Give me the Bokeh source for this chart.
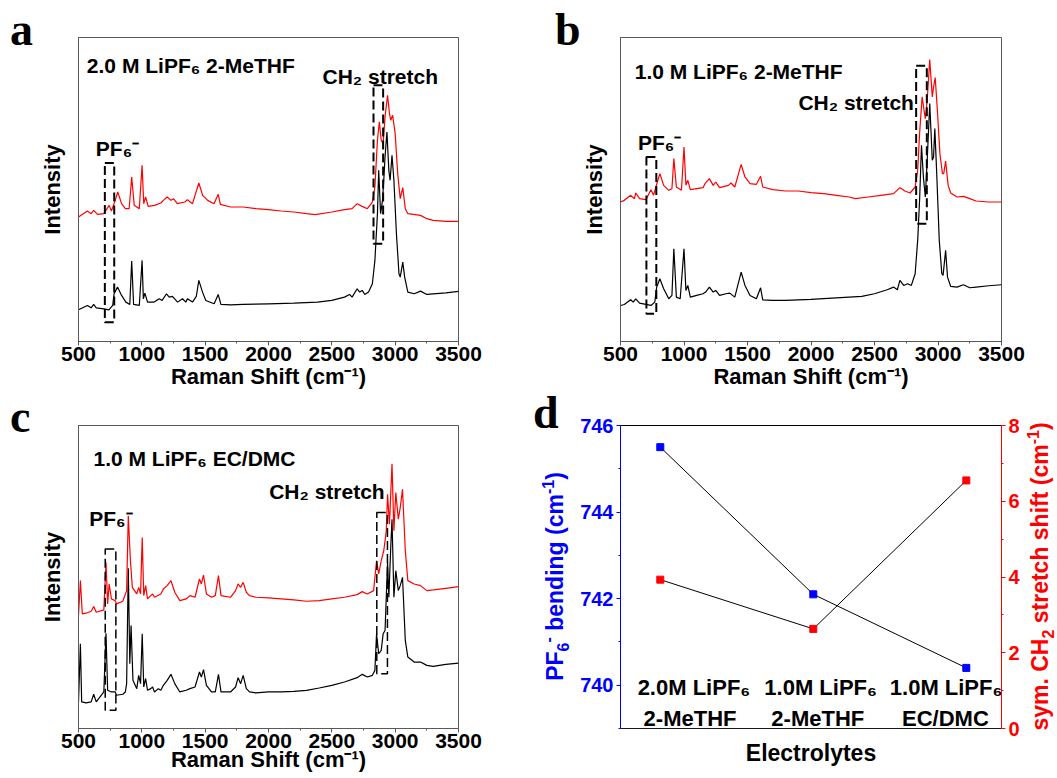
import math
from bokeh.plotting import figure
from bokeh.models import (Range1d, LinearAxis, SingleIntervalTicker, FixedTicker,
                          Label, ColumnDataSource, GridBox, Div)
from bokeh.core.properties import value
from bokeh.embed import file_html
from bokeh.resources import INLINE

SANS = "Liberation Sans"
SERIF = "Liberation Serif"
GRAY = "#595959"
RED = "#ff0000"
BLUE = "#0000ff"

# ---------------- panel a: 2.0 M LiPF6 2-MeTHF (intensity, a.u.) ----------------
a_black_shift = [500, 570, 600, 620, 640, 700, 740, 770, 781, 808,
                 840, 874, 905, 920, 935, 980, 1002, 1012, 1024, 1045,
                 1097, 1137, 1160, 1195, 1216, 1242, 1282, 1321, 1347, 1360,
                 1400, 1430, 1450, 1479, 1505, 1571, 1603, 1624, 1700, 1800,
                 2000, 2200, 2387, 2500, 2600, 2640, 2660, 2700, 2720, 2740,
                 2760, 2790, 2820, 2840, 2860, 2870, 2885, 2900, 2910, 2920,
                 2935, 2950, 2960, 2975, 2990, 3010, 3030, 3040, 3060, 3075,
                 3100, 3150, 3200, 3250, 3300, 3400, 3500]
a_black_int = [95, 108, 101, 111, 101, 98, 95, 108, 143, 163,
               138, 118, 111, 241, 111, 108, 243, 128, 145, 118,
               118, 128, 123, 143, 133, 135, 118, 128, 118, 128,
               118, 135, 183, 148, 123, 113, 141, 111, 110, 111,
               113, 115, 118, 123, 133, 141, 133, 158, 148, 153,
               141, 148, 173, 243, 383, 513, 383, 423, 483, 553,
               628, 513, 483, 558, 483, 323, 203, 193, 238, 193,
               148, 143, 151, 141, 143, 146, 150]
a_red_shift = [500, 570, 600, 620, 650, 700, 742, 760, 790, 810,
               840, 870, 900, 920, 940, 980, 1002, 1015, 1030, 1050,
               1100, 1150, 1170, 1200, 1230, 1250, 1280, 1340, 1360, 1400,
               1450, 1480, 1520, 1570, 1603, 1620, 1700, 1800, 1900, 2000,
               2100, 2200, 2300, 2370, 2500, 2600, 2660, 2700, 2740, 2780,
               2820, 2840, 2860, 2875, 2890, 2905, 2920, 2940, 2955, 2965,
               2980, 3000, 3020, 3040, 3060, 3080, 3100, 3200, 3250, 3300,
               3400, 3500]
a_red_int = [373, 391, 383, 393, 381, 383, 408, 391, 423, 448,
             413, 398, 398, 493, 408, 398, 528, 413, 433, 405,
             408, 415, 423, 433, 423, 428, 413, 418, 425, 413,
             475, 438, 423, 413, 441, 411, 403, 403, 398, 395,
             391, 388, 383, 380, 388, 395, 398, 413, 405, 398,
             418, 463, 603, 658, 603, 593, 673, 738, 683, 663,
             678, 623, 503, 428, 461, 398, 383, 378, 368, 363,
             360, 360]

# ---------------- panel b: 1.0 M LiPF6 2-MeTHF ----------------
b_black_shift = [500, 530, 580, 600, 620, 650, 700, 740, 770, 785,
                 810, 840, 880, 905, 920, 940, 970, 1000, 1015, 1030,
                 1050, 1100, 1150, 1170, 1200, 1230, 1250, 1280, 1330, 1360,
                 1400, 1450, 1480, 1520, 1570, 1603, 1620, 1700, 1800, 2000,
                 2200, 2400, 2500, 2600, 2650, 2680, 2700, 2730, 2760, 2790,
                 2820, 2840, 2855, 2870, 2885, 2900, 2915, 2935, 2955, 2965,
                 2975, 2990, 3010, 3030, 3040, 3060, 3075, 3100, 3150, 3200,
                 3250, 3300, 3400, 3500]
b_black_int = [108, 111, 125, 118, 128, 115, 111, 108, 118, 163,
               188, 158, 128, 138, 278, 133, 128, 278, 153, 168,
               133, 138, 143, 148, 163, 148, 153, 138, 143, 145,
               133, 208, 168, 138, 128, 161, 125, 123, 123, 126,
               131, 135, 143, 155, 163, 155, 183, 168, 173, 168,
               203, 303, 423, 588, 493, 433, 543, 713, 543, 553,
               638, 503, 303, 203, 198, 273, 193, 165, 163, 170,
               161, 163, 167, 170]
b_red_shift = [500, 530, 580, 610, 620, 650, 700, 740, 760, 790,
               810, 840, 880, 905, 920, 940, 980, 1000, 1015, 1030,
               1050, 1100, 1150, 1165, 1200, 1230, 1250, 1280, 1350, 1370,
               1400, 1450, 1480, 1520, 1570, 1603, 1620, 1700, 1800, 1900,
               2000, 2100, 2200, 2300, 2350, 2450, 2550, 2650, 2700, 2740,
               2780, 2820, 2840, 2855, 2875, 2890, 2900, 2915, 2935, 2955,
               2965, 2978, 2995, 3015, 3035, 3045, 3060, 3080, 3100, 3150,
               3200, 3250, 3300, 3400, 3500]
b_red_int = [418, 423, 438, 428, 445, 428, 425, 455, 438, 478,
             503, 468, 453, 458, 548, 463, 453, 583, 468, 483,
             455, 458, 461, 473, 488, 468, 478, 461, 468, 475,
             463, 531, 493, 473, 471, 495, 463, 455, 451, 451,
             446, 443, 438, 433, 428, 433, 438, 443, 461, 451,
             445, 463, 513, 623, 733, 693, 668, 723, 845, 733,
             763, 791, 693, 563, 503, 503, 541, 468, 445, 433,
             435, 428, 421, 418, 418]

# ---------------- panel c: 1.0 M LiPF6 EC/DMC ----------------
c_black_shift = [500, 515, 525, 560, 600, 620, 640, 700, 717, 730,
                 760, 790, 800, 850, 870, 880, 893, 905, 915, 930,
                 960, 975, 990, 1003, 1015, 1030, 1045, 1070, 1085, 1100,
                 1130, 1150, 1170, 1200, 1230, 1260, 1300, 1350, 1380, 1420,
                 1455, 1470, 1487, 1510, 1550, 1580, 1605, 1625, 1700, 1740,
                 1760, 1780, 1800, 1825, 1850, 1900, 2000, 2100, 2200, 2300,
                 2400, 2500, 2600, 2700, 2740, 2780, 2820, 2840, 2853, 2870,
                 2890, 2905, 2920, 2940, 2950, 2965, 2975, 2990, 3005, 3025,
                 3040, 3058, 3080, 3100, 3150, 3200, 3250, 3300, 3400, 3500]
c_black_int = [80, 255, 80, 77, 80, 103, 80, 110, 287, 115,
               110, 110, 100, 103, 110, 135, 482, 195, 310, 145,
               120, 160, 135, 285, 125, 150, 115, 120, 125, 110,
               120, 115, 130, 145, 163, 135, 110, 115, 120, 125,
               170, 155, 177, 130, 110, 110, 163, 110, 110, 125,
               153, 135, 160, 120, 110, 107, 110, 110, 112, 115,
               122, 130, 140, 153, 163, 155, 160, 175, 285, 225,
               235, 285, 295, 500, 395, 545, 630, 395, 475, 415,
               430, 455, 265, 215, 200, 200, 190, 187, 193, 197]
c_red_shift = [500, 515, 530, 560, 600, 620, 640, 700, 717, 730,
               742, 760, 790, 800, 850, 880, 893, 910, 925, 960,
               975, 990, 1003, 1015, 1030, 1045, 1070, 1085, 1100, 1150,
               1170, 1200, 1230, 1260, 1300, 1350, 1380, 1420, 1455, 1470,
               1487, 1510, 1550, 1580, 1605, 1625, 1700, 1740, 1760, 1780,
               1800, 1825, 1850, 1900, 2000, 2100, 2200, 2300, 2400, 2500,
               2600, 2700, 2740, 2780, 2830, 2853, 2870, 2890, 2910, 2930,
               2940, 2955, 2975, 2990, 3005, 3025, 3040, 3058, 3080, 3100,
               3150, 3200, 3250, 3300, 3400, 3500]
c_red_int = [340, 445, 345, 347, 353, 367, 350, 357, 500, 375,
             435, 390, 385, 375, 383, 415, 640, 505, 425, 405,
             425, 405, 575, 400, 430, 390, 400, 405, 395, 405,
             420, 430, 445, 410, 385, 390, 400, 395, 450, 435,
             462, 405, 395, 400, 460, 400, 395, 415, 435, 425,
             440, 410, 400, 395, 393, 390, 387, 383, 385, 390,
             395, 403, 412, 405, 415, 505, 465, 505, 535, 595,
             705, 615, 797, 595, 710, 630, 665, 720, 535, 445,
             435, 430, 415, 417, 422, 427]

# dashed guide boxes [left, right, bottom, top] in data units
a_boxes = {"left": [708, 2829], "right": [782, 2905], "bottom": [58, 293], "top": [535, 768]}
b_boxes = {"left": [704, 2828], "right": [782, 2912], "bottom": [83, 353], "top": [553, 826]}
c_boxes = {"left": [711, 2855], "right": [795, 2939], "bottom": [55, 165], "top": [540, 650]}

# ---------------- panel d ----------------
electrolyte_pos = [1, 2, 3]
electrolyte_line1 = ["2.0M LiPF\u2086", "1.0M LiPF\u2086", "1.0M LiPF\u2086"]
electrolyte_line2 = ["2-MeTHF", "2-MeTHF", "EC/DMC"]
pf6_bending = [745.5, 742.1, 740.4]          # cm-1, left axis
ch2_shift = [3.93, 2.63, 6.55]               # cm-1, right axis
line1_left = [0.852, 1.68, 2.50]             # left edges of the in-plot category labels
line2_left = [0.891, 1.726, 2.58]


def spectrum_panel(width, height, bl, br, bt, bb, ymax, label_standoff=0):
    p = figure(width=width, height=height,
               x_range=Range1d(500, 3500), y_range=Range1d(0, ymax),
               output_backend="svg", toolbar_location=None,
               min_border_left=bl, min_border_right=br,
               min_border_top=bt, min_border_bottom=bb)
    p.xgrid.visible = False
    p.ygrid.visible = False
    p.outline_line_color = GRAY
    p.outline_line_width = 1
    p.border_fill_color = None
    p.background_fill_color = "white"
    xa = p.xaxis[0]
    xa.ticker = SingleIntervalTicker(interval=500, num_minor_ticks=2)
    xa.axis_line_color = GRAY
    xa.major_tick_line_color = GRAY
    xa.minor_tick_line_color = GRAY
    xa.major_tick_out = 4
    xa.major_tick_in = 0
    xa.minor_tick_out = 2
    xa.minor_tick_in = 0
    xa.major_label_text_font = SANS
    xa.major_label_text_font_style = "bold"
    xa.major_label_text_font_size = "21px"
    xa.major_label_text_color = "black"
    xa.major_label_standoff = 1
    xa.axis_label = "Raman Shift (cm\u207b\u00b9)"
    xa.axis_label_text_font = SANS
    xa.axis_label_text_font_style = "bold"
    xa.axis_label_text_font_size = "22px"
    xa.axis_label_text_color = "black"
    xa.axis_label_standoff = label_standoff
    ya = p.yaxis[0]
    ya.ticker = FixedTicker(ticks=[])
    ya.major_tick_line_color = None
    ya.minor_tick_line_color = None
    ya.major_tick_out = 0
    ya.major_label_standoff = 0
    ya.axis_line_color = GRAY
    ya.axis_label = "Intensity"
    ya.axis_label_text_font = SANS
    ya.axis_label_text_font_style = "bold"
    ya.axis_label_text_font_size = "22px"
    ya.axis_label_text_color = "black"
    ya.axis_label_standoff = 14
    return p


def add_text(p, x, y, text, size="21px", font=SANS, color="black"):
    p.add_layout(Label(x=x, y=y, text=text, text_font=font, text_font_style="bold",
                       text_font_size=size, text_color=color,
                       text_baseline="alphabetic", text_align="left"))


def fill_spectrum(p, blk_x, blk_y, red_x, red_y, boxes, dash_w):
    p.line(blk_x, blk_y, line_color="black", line_width=1.2)
    p.line(red_x, red_y, line_color=RED, line_width=1.2)
    p.quad(left=boxes["left"], right=boxes["right"], bottom=boxes["bottom"], top=boxes["top"],
           fill_color=None, line_color="black", line_width=dash_w, line_dash="9 4")


def overlay_div(html, w, h):
    d = Div(text=html, width=w, height=h, align="start", margin=0)
    try:
        d.styles = {"z-index": "10", "pointer-events": "none", "overflow": "visible"}
    except Exception:
        pass
    return d


def letter_div(letter, dx, baseline):
    ty = baseline - 38.5
    html = ('<div style="font-family:\'Liberation Serif\';font-weight:bold;font-size:46px;'
            'line-height:46px;color:#000;white-space:nowrap;margin:0;padding:0;'
            f'transform:translate({dx}px,{ty}px);">{letter}</div>')
    return overlay_div(html, 60, 60)


def vertical_title_div(inner_html, color, box_left, box_bottom, w, h):
    html = ('<div style="width:317px;height:27px;line-height:27px;text-align:center;white-space:nowrap;'
            f'font-family:\'Liberation Sans\';font-weight:bold;font-size:23px;color:{color};'
            'margin:0;padding:0;transform-origin:0 0;'
            f'transform:translate({box_left}px,{box_bottom}px) rotate(-90deg);">{inner_html}</div>')
    return overlay_div(html, w, h)


SUB = '<sub style="font-size:16px;line-height:0;">{}</sub>'
SUP = '<sup style="font-size:16px;line-height:0;">{}</sup>'

# panel a
pa = spectrum_panel(530, 398, 78, 72, 37, 57, 911)
fill_spectrum(pa, a_black_shift, a_black_int, a_red_shift, a_red_int, a_boxes, 2)
add_text(pa, 566, 826, "2.0 M LiPF\u2086 2-MeTHF")
add_text(pa, 2426, 795, "CH\u2082 stretch")
add_text(pa, 637, 578, "PF\u2086\u207b")

# panel b
pb = spectrum_panel(527, 398, 90, 56, 37, 57, 911)
fill_spectrum(pb, b_black_shift, b_black_int, b_red_shift, b_red_int, b_boxes, 2)
add_text(pb, 612, 808, "1.0 M LiPF\u2086 2-MeTHF")
add_text(pb, 1901, 715, "CH\u2082 stretch")
add_text(pb, 638, 595, "PF\u2086\u207b")

# panel c
pc = spectrum_panel(530, 380, 78, 72, 27, 50, 912, label_standoff=-4)
fill_spectrum(pc, c_black_shift, c_black_int, c_red_shift, c_red_int, c_boxes, 1.5)
add_text(pc, 618, 812, "1.0 M LiPF\u2086 EC/DMC")
add_text(pc, 2005, 712, "CH\u2082 stretch")
add_text(pc, 584, 632, "PF\u2086\u207b")

# panel d
pd = figure(width=527, height=380, x_range=Range1d(0.74, 3.23), y_range=Range1d(739, 746),
            output_backend="svg", toolbar_location=None,
            min_border_left=90, min_border_right=56, min_border_top=27, min_border_bottom=50)
pd.xgrid.visible = False
pd.ygrid.visible = False
pd.outline_line_color = None
pd.border_fill_color = None
pd.background_fill_color = "white"
pd.extra_y_ranges = {"shift": Range1d(0, 8)}

la = pd.yaxis[0]
la.ticker = SingleIntervalTicker(interval=2, num_minor_ticks=2)
la.axis_line_color = BLUE
la.major_tick_line_color = BLUE
la.minor_tick_line_color = BLUE
la.major_tick_out = 4
la.major_tick_in = 0
la.minor_tick_out = 2
la.minor_tick_in = 0
la.major_label_text_font = SANS
la.major_label_text_font_style = "bold"
la.major_label_text_font_size = "20px"
la.major_label_text_color = BLUE
la.major_label_standoff = 3

ra = LinearAxis(y_range_name="shift", ticker=SingleIntervalTicker(interval=2, num_minor_ticks=2))
ra.axis_line_color = RED
ra.major_tick_line_color = RED
ra.minor_tick_line_color = RED
ra.major_tick_out = 4
ra.major_tick_in = 0
ra.minor_tick_out = 2
ra.minor_tick_in = 0
ra.major_label_text_font = SANS
ra.major_label_text_font_style = "bold"
ra.major_label_text_font_size = "20px"
ra.major_label_text_color = RED
ra.major_label_standoff = 3
pd.add_layout(ra, "right")

ba = pd.xaxis[0]
ba.ticker = FixedTicker(ticks=[])
ba.axis_line_color = "#1a1a1a"
ba.major_tick_line_color = None
ba.minor_tick_line_color = None
ba.major_tick_out = 0
ba.major_label_standoff = 0
ba.axis_label = "Electrolytes"
ba.axis_label_text_font = SANS
ba.axis_label_text_font_style = "bold"
ba.axis_label_text_font_size = "23px"
ba.axis_label_text_color = "black"
ba.axis_label_standoff = 11

ta = LinearAxis(ticker=FixedTicker(ticks=[]))
ta.axis_line_color = "black"
ta.major_tick_line_color = None
ta.minor_tick_line_color = None
ta.major_tick_out = 0
ta.major_label_standoff = 0
pd.add_layout(ta, "above")

pd.line(electrolyte_pos, pf6_bending, line_color="black", line_width=1)
pd.line(electrolyte_pos, ch2_shift, line_color="black", line_width=1, y_range_name="shift")
pd.scatter(electrolyte_pos, pf6_bending, marker="square", size=7, color=BLUE)
pd.scatter(electrolyte_pos, ch2_shift, marker="square", size=7, color=RED, y_range_name="shift")

cat_src = ColumnDataSource(dict(x1=line1_left, x2=line2_left, y1=[739.94] * 3, y2=[739.22] * 3,
                                t1=electrolyte_line1, t2=electrolyte_line2))
pd.text(x="x1", y="y1", text="t1", source=cat_src, text_font=value(SANS), text_font_style="bold",
        text_font_size="22px", text_color="black", text_align="left", text_baseline="alphabetic")
pd.text(x="x2", y="y2", text="t2", source=cat_src, text_font=value(SANS), text_font_style="bold",
        text_font_size="22px", text_color="black", text_align="left", text_baseline="alphabetic")

# overlays: panel letters and the two vertical axis titles of panel d
da = letter_div("a", 10, 45)
db = letter_div("b", 25, 45)
dc = letter_div("c", 10, 34)
dd = letter_div("d", 3, 30)
dl = vertical_title_div("PF" + SUB.format("6") + SUP.format("-") + " bending (cm" + SUP.format("-1") + ")",
                        BLUE, 12, 337, 60, 380)
dr = vertical_title_div("sym. CH" + SUB.format("2") + " stretch shift (cm" + SUP.format("-1") + ")",
                        RED, 497, 337, 527, 380)

grid = GridBox(children=[(pa, 0, 0), (pb, 0, 1), (pc, 1, 0), (pd, 1, 1),
                         (da, 0, 0), (db, 0, 1), (dc, 1, 0), (dr, 1, 1), (dl, 1, 1), (dd, 1, 1)],
               spacing=0)

open("out.html", "w").write(file_html(grid, INLINE))
